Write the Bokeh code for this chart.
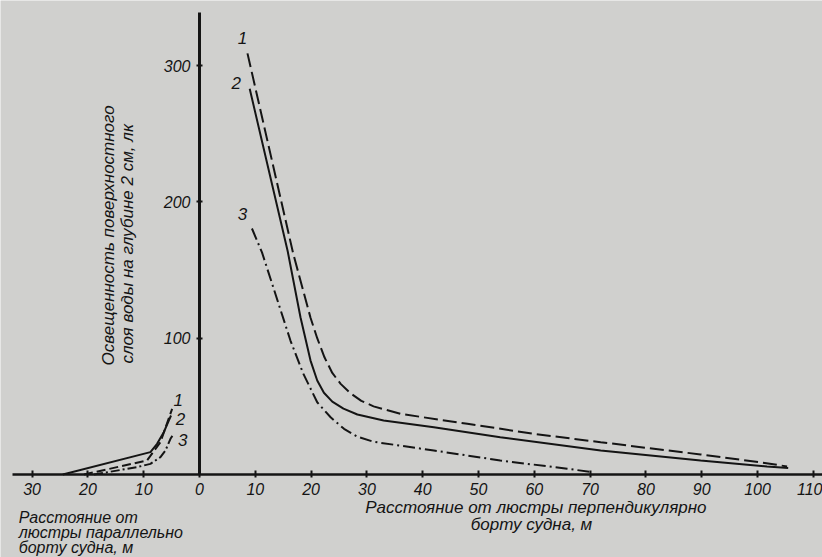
import math
from bokeh.plotting import figure
from bokeh.models import (Range1d, FixedTicker, Label, LabelSet,
                          ColumnDataSource, LinearAxis)
from bokeh.core.properties import value
from bokeh.embed import file_html
from bokeh.resources import INLINE

# ---- data ----
# right side: distance from the lamp perpendicular to ship's side, m
c1_x = [8.6, 16.8, 19.9, 21.1, 22.4, 23.8, 25.3, 27.1, 29.0, 31.2, 36.0, 48.0, 59.9, 71.9, 89.8, 100.5, 105.3]
c1_y = [309, 162, 115, 100, 86, 74.5, 66.5, 59.5, 54, 50, 44.5, 37.2, 29.9, 23.7, 14.7, 9.0, 5.9]
c2_x = [9.0, 15.8, 18.1, 19.9, 21.1, 22.3, 23.8, 25.8, 28.3, 33.0, 42.0, 53.9, 71.9, 89.8, 101.7, 105.5]
c2_y = [283, 164, 115.4, 83.6, 69, 60, 53.5, 48.3, 44, 39.6, 34.7, 27.4, 17.6, 10.3, 5.9, 4.8]
c3_x = [9.4, 11.2, 16.3, 18.6, 21.1, 23.5, 25.9, 28.3, 31.2, 42.0, 53.9, 65.9, 70.0]
c3_y = [180.5, 163, 98.3, 74, 53, 42, 33.5, 27.8, 24.0, 17.6, 10.3, 4.2, 2.0]
# left side: distance parallel to ship's side (drawn to the left of 0)
l1_x = [-20.7, -9.4, -7.0, -4.9]
l1_y = [0, 10.3, 23.7, 48.2]
l2_x = [-24.5, -8.8, -7.6, -6.4, -5.5, -5.1]
l2_y = [0, 16.4, 22.5, 31, 39.6, 43.3]
l3_x = [-18.9, -11.2, -8.8, -7.0, -6.1, -5.2, -4.6]
l3_y = [0, 5.4, 7.8, 12.7, 17.6, 26.2, 29.9]

curve_labels = ["1", "2", "3", "1", "2", "3"]
curve_label_x = [7.7, 6.6, 7.7, -3.8, -3.4, -3.0]
curve_label_y = [320, 287.6, 190.8, 54.3, 41, 25]

x_ticks = [-30, -20, -10, 0, 10, 20, 30, 40, 50, 60, 70, 80, 90, 100, 110]
y_ticks = [100, 200, 300]

BG = "#d0d0ce"
INK = "#141414"
FONT = "Liberation Sans"

p = figure(width=822, height=557,
           x_range=Range1d(-35.66, 111.65), y_range=Range1d(-60.9, 347.8),
           output_backend="svg", toolbar_location=None,
           x_axis_location=None, y_axis_location=None,
           min_border_left=0, min_border_right=0,
           min_border_top=0, min_border_bottom=0,
           background_fill_color=BG, border_fill_color=BG)
p.outline_line_color = None
p.grid.visible = False

def style_axis(ax):
    ax.axis_line_color = INK
    ax.major_tick_line_color = INK
    ax.major_tick_line_width = 2
    ax.minor_tick_line_color = None
    ax.major_label_text_font = FONT
    ax.major_label_text_font_style = "italic"
    ax.major_label_text_font_size = "16px"
    ax.major_label_text_color = INK

xax = LinearAxis(fixed_location=0, ticker=FixedTicker(ticks=x_ticks),
                 bounds=(-33.5, 111.6))
xax.major_label_overrides = {t: str(abs(t)) for t in x_ticks}
style_axis(xax)
xax.axis_line_width = 2.5
xax.major_tick_in = 4
xax.major_tick_out = 3
xax.major_label_standoff = 5
p.add_layout(xax, "below")

yax = LinearAxis(fixed_location=0, ticker=FixedTicker(ticks=y_ticks),
                 bounds=(0, 339))
style_axis(yax)
yax.axis_line_width = 3
yax.major_tick_in = 3
yax.major_tick_out = 3
yax.major_label_standoff = 6
yax.major_label_orientation = "horizontal"
p.add_layout(yax, "left")

# curves
p.line(c1_x, c1_y, line_width=2, color=INK, line_dash="14 5")
p.line(c2_x, c2_y, line_width=2, color=INK)
p.line(c3_x, c3_y, line_width=2, color=INK, line_dash="12 4 2 4")
p.line(l1_x, l1_y, line_width=2, color=INK, line_dash="9 4")
p.line(l2_x, l2_y, line_width=2, color=INK)
p.line(l3_x, l3_y, line_width=2, color=INK, line_dash="9 3 2 3")

lsrc = ColumnDataSource(dict(x=curve_label_x, y=curve_label_y, t=curve_labels))
p.add_layout(LabelSet(x="x", y="y", text="t", source=lsrc,
                      text_align="center", text_baseline="middle",
                      text_font=value(FONT), text_font_style=value("italic"),
                      text_font_size=value("17px"), text_color=INK))

def lab(x, y, text, angle=0.0, align="left", size="17px"):
    p.add_layout(Label(x=x, y=y, text=text, angle=angle,
                       text_align=align, text_baseline="middle",
                       text_font=FONT, text_font_style="italic",
                       text_font_size=size, text_color=INK))

# y title (rotated, two lines)
lab(-16.3, 80, "Освещенность  поверхностного", angle=math.pi / 2)
lab(-12.9, 81.4, "слоя  воды  на  глубине  2 см, лк", angle=math.pi / 2)

# bottom titles
lab(29.7, -24.2, "Расстояние  от  люстры  перпендикулярно")
lab(48.6, -36.7, "борту  судна,  м")
lab(-32.4, -31.5, "Расстояние  от", size="16px")
lab(-32.4, -42.5, "люстры  параллельно", size="16px")
lab(-32.4, -53.5, "борту  судна,    м", size="16px")

open("out.html", "w").write(file_html(p, INLINE))
